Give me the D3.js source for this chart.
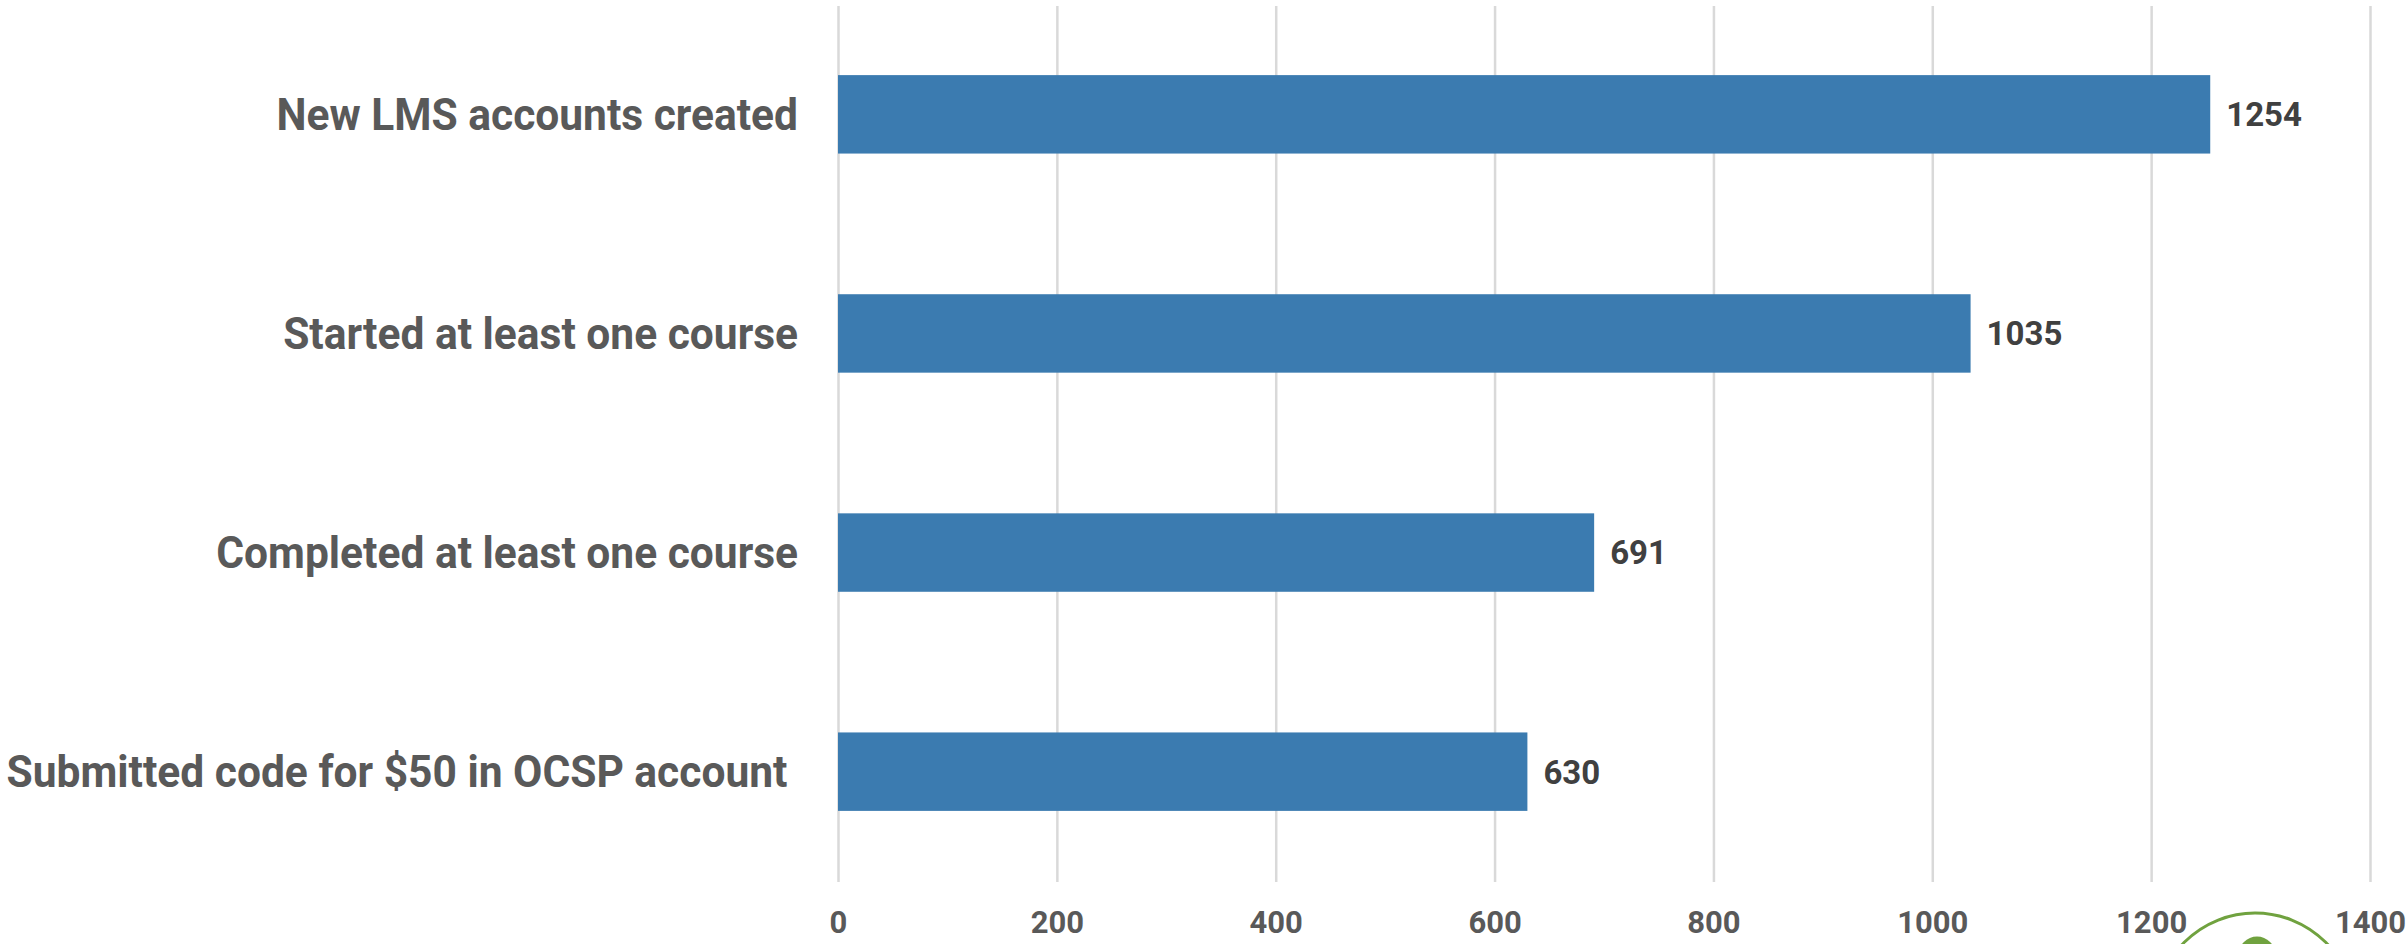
<!DOCTYPE html>
<html>
<head>
<meta charset="utf-8">
<script src="https://cdn.jsdelivr.net/npm/d3@7"></script>
<style>
  body { margin: 0; background: #fff; }
  svg { display: block; font-family: Roboto, "Noto Sans", sans-serif; }
</style>
</head>
<body>
<div id="chart"></div>
<script>
// chart data
const categories = [
  "New LMS accounts created",
  "Started at least one course",
  "Completed at least one course",
  "Submitted code for $50 in OCSP account ",
];
const values = [1254, 1035, 691, 630];
const xTicks = [0, 200, 400, 600, 800, 1000, 1200, 1400];

const width = 2407;
const height = 944;
const margin = { top: 5, right: 37, bottom: 63, left: 838 };

// category labels look a little narrower than plain Roboto
const labelScaleX = 0.945;

const svg = d3
  .select("#chart")
  .append("svg")
  .attr("width", width)
  .attr("height", height);

const x = d3
  .scaleLinear()
  .domain([0, 1400])
  .range([margin.left, width - margin.right]);

const y = d3
  .scaleBand()
  .domain(categories)
  .range([margin.top, height - margin.bottom])
  .paddingInner(0.642)
  .paddingOuter(0.32);

// vertical gridlines
const grid = svg
  .append("g")
  .attr("transform", `translate(0,${height - margin.bottom + 1})`)
  .call(
    d3.axisBottom(x)
      .tickValues(xTicks)
      .tickSize(-(height - margin.bottom - margin.top))
      .tickFormat("")
  );
grid.select(".domain").remove();
grid.selectAll(".tick line").attr("stroke", "#d9d9d9").attr("stroke-width", 2.5);

// x tick labels
const xAxis = svg
  .append("g")
  .attr("transform", `translate(0,${height - margin.bottom})`)
  .call(
    d3.axisBottom(x)
      .tickValues(xTicks)
      .tickFormat(d3.format("d"))
      .tickSize(0)
      .tickPadding(0)
  );
xAxis.select(".domain").remove();
xAxis
  .selectAll(".tick text")
  .attr("y", 52)
  .attr("dy", null)
  .attr("fill", "#595959")
  .style("font-size", "31px")
  .style("font-weight", "700")
  .style("font-family", "Roboto, sans-serif");

// category labels
const yAxis = svg
  .append("g")
  .attr("transform", `translate(${margin.left},0)`)
  .call(d3.axisLeft(y).tickSize(0).tickPadding(40));
yAxis.select(".domain").remove();
yAxis
  .selectAll(".tick text")
  .attr("x", -40 / labelScaleX)
  .attr("transform", `scale(${labelScaleX},1)`)
  .attr("dy", "0.35em")
  .attr("fill", "#595959")
  .style("white-space", "pre")
  .style("font-size", "45px")
  .style("font-weight", "700")
  .style("font-family", "Roboto, sans-serif");

// bars
svg
  .selectAll("rect.bar")
  .data(values)
  .enter()
  .append("rect")
  .attr("class", "bar")
  .attr("fill", "#3b7bb0")
  .attr("x", x(0))
  .attr("y", (d, i) => y(categories[i]))
  .attr("width", (d) => x(d) - x(0))
  .attr("height", y.bandwidth());

// value labels
svg
  .selectAll("text.value")
  .data(values)
  .enter()
  .append("text")
  .attr("class", "value")
  .attr("x", (d) => x(d) + 16)
  .attr("y", (d, i) => y(categories[i]) + y.bandwidth() / 2)
  .attr("dy", "0.36em")
  .attr("fill", "#404040")
  .style("font-size", "33px")
  .style("font-weight", "700")
  .text((d) => d);

// green logo fragment at bottom right
svg
  .append("circle")
  .attr("cx", 2255)
  .attr("cy", 1013)
  .attr("r", 100)
  .attr("fill", "none")
  .attr("stroke", "#70a23f")
  .attr("stroke-width", 3);
svg
  .append("circle")
  .attr("cx", 2257)
  .attr("cy", 955)
  .attr("r", 18.5)
  .attr("fill", "#70a23f");
</script>
</body>
</html>
